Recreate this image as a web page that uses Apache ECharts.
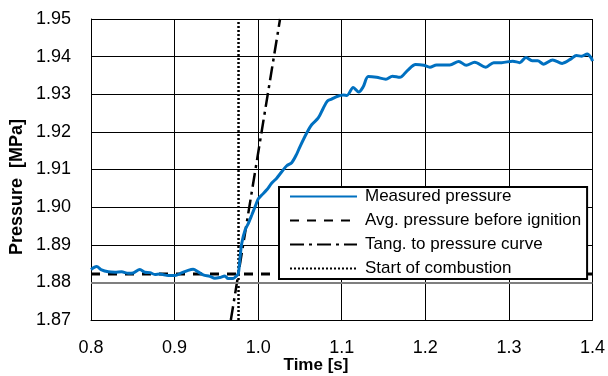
<!DOCTYPE html>
<html>
<head>
<meta charset="utf-8">
<script src="https://cdn.jsdelivr.net/npm/echarts@6/dist/echarts.min.js"></script>
<style>
  html, body { margin: 0; padding: 0; background: #fff; }
  #chart { width: 608px; height: 376px; }
</style>
</head>
<body>
<div id="chart"></div>
<script>
// measured pressure
const timeS = [
  0.800, 0.8067, 0.8127, 0.8207, 0.8287, 0.8366, 0.8446, 0.8505, 0.8585, 0.8645,
  0.8705, 0.8765, 0.8824, 0.8924, 0.9004, 0.9082, 0.9162, 0.9222, 0.9282, 0.9342,
  0.9422, 0.9481, 0.9541, 0.9601, 0.9640, 0.9700, 0.9740,
  0.9763, 0.9784, 0.9804, 0.9844, 0.9883, 0.9924, 0.9963, 1.0002, 1.0043, 1.0103,
  1.0163, 1.0222, 1.0282, 1.0342, 1.0401, 1.0461, 1.0501, 1.0581, 1.0640, 1.0719,
  1.0779, 1.0829, 1.0879, 1.0943, 1.1018, 1.1062, 1.1137, 1.1203, 1.1257, 1.1317,
  1.1417, 1.1528, 1.1606, 1.1695, 1.1785, 1.1884, 1.1982, 1.2054, 1.2134, 1.2293,
  1.2400, 1.2490, 1.2591, 1.2723, 1.2818, 1.2914, 1.3046, 1.3129, 1.3204, 1.3278,
  1.3344, 1.3416, 1.3523, 1.3637, 1.3744, 1.3806, 1.3870, 1.3938, 1.3986, 1.4000
];
const pressureMPa = [
  1.8834, 1.8842, 1.8833, 1.8828, 1.8827, 1.8828, 1.8824, 1.8825, 1.8834, 1.8827,
  1.8826, 1.8821, 1.8822, 1.8818, 1.8818, 1.8825, 1.8832, 1.8835, 1.8828, 1.8820,
  1.8816, 1.8811, 1.8813, 1.8817, 1.8810, 1.8810, 1.8817,
  1.8824, 1.8868, 1.8904, 1.8939, 1.8957, 1.8979, 1.9001, 1.9022, 1.9032, 1.9046,
  1.9064, 1.9077, 1.9094, 1.9110, 1.9118, 1.9141, 1.9161, 1.9197, 1.9219, 1.9237,
  1.9263, 1.9282, 1.9287, 1.9294, 1.9298, 1.9297, 1.9318, 1.9306, 1.9320, 1.9347,
  1.9345, 1.9340, 1.9348, 1.9345, 1.9363, 1.9379, 1.9377, 1.9372, 1.9378, 1.9378,
  1.9387, 1.9377, 1.9385, 1.9372, 1.9384, 1.9384, 1.9388, 1.9384, 1.9398, 1.9389,
  1.9389, 1.9380, 1.9391, 1.9382, 1.9394, 1.9403, 1.9401, 1.9407, 1.9396, 1.9388
];

// average pressure before ignition
const avgPressure = 1.8822;
const avgRange = [0.8, 1.4];

// tangent to the pressure curve: two points on it
const tangentT = [0.9673, 1.0262];
const tangentP = [1.87, 1.95];

// start of combustion
const startT = 0.9765;
const startRange = [1.87, 1.95];

// horizontal axis crossing line
const axisCross = 1.88;

// axis ticks
const xTicks = { min: 0.8, max: 1.4, step: 0.1 };
const yTicks = { min: 1.87, max: 1.95, step: 0.01 };

const seriesNames = [
  'Measured pressure',
  'Avg. pressure before ignition',
  'Tang. to pressure curve',
  'Start of combustion'
];

const font = '"Liberation Sans", Arial, sans-serif';
const chart = echarts.init(document.getElementById('chart'));

const option = {
  animation: false,
  backgroundColor: '#fff',
  grid: { left: 91, top: 19, width: 503, height: 301, containLabel: false },
  legend: {
    orient: 'vertical',
    left: 279,
    top: 187,
    data: seriesNames,
    itemWidth: 67,
    itemHeight: 14,
    itemGap: 7,
    padding: [1, 6, 2, 10],
    backgroundColor: '#fff',
    borderColor: '#000',
    borderWidth: 2,
    borderRadius: 0,
    itemStyle: { opacity: 0 },
    textStyle: { fontFamily: font, fontSize: 17, color: '#000', padding: [0, 0, 0, 3] }
  },
  xAxis: {
    type: 'value',
    min: xTicks.min,
    max: xTicks.max,
    interval: xTicks.step,
    axisLine: { show: true, lineStyle: { color: '#000', width: 1 } },
    axisTick: { show: false },
    splitLine: { show: true, lineStyle: { color: '#000', width: 1 } },
    axisLabel: {
      fontFamily: font, fontSize: 18, color: '#000', margin: 19,
      formatter: v => v.toFixed(1)
    }
  },
  yAxis: {
    type: 'value',
    min: yTicks.min,
    max: yTicks.max,
    interval: yTicks.step,
    axisLine: { show: true, lineStyle: { color: '#000', width: 1 } },
    axisTick: { show: false },
    splitLine: { show: true, lineStyle: { color: '#000', width: 1 } },
    axisLabel: {
      fontFamily: font, fontSize: 18, color: '#000', margin: 20,
      formatter: v => v.toFixed(2)
    }
  },
  graphic: [
    {
      type: 'text', x: 17, y: 187, rotation: Math.PI / 2,
      style: {
        text: 'Pressure  [MPa]', fontFamily: font, fontSize: 18, fontWeight: 'bold',
        fill: '#000', align: 'center', verticalAlign: 'middle'
      }
    },
    {
      type: 'text', x: 316, y: 365,
      style: {
        text: 'Time [s]', fontFamily: font, fontSize: 17, fontWeight: 'bold',
        fill: '#000', align: 'center', verticalAlign: 'middle'
      }
    }
  ],
  series: [
    {
      name: 'axis-cross',
      type: 'line',
      data: [],
      silent: true,
      markLine: {
        silent: true,
        symbol: 'none',
        label: { show: false },
        lineStyle: { color: '#7f7f7f', width: 2, type: 'solid' },
        data: [{ yAxis: axisCross }]
      }
    },
    {
      name: seriesNames[1],
      type: 'line',
      symbol: 'none',
      data: avgRange.map(t => [t, avgPressure]),
      lineStyle: { color: '#000', width: 3, type: [9, 8] },
      itemStyle: { color: '#000' },
      z: 3
    },
    {
      name: seriesNames[2],
      type: 'line',
      symbol: 'none',
      clip: true,
      data: tangentT.map((t, i) => [t, tangentP[i]]),
      lineStyle: { color: '#000', width: 2.5, type: [14, 5, 3, 5] },
      itemStyle: { color: '#000' },
      z: 3
    },
    {
      name: seriesNames[3],
      type: 'line',
      symbol: 'none',
      data: startRange.map(p => [startT, p]),
      lineStyle: { color: '#000', width: 2.5, type: [2, 2] },
      itemStyle: { color: '#000' },
      z: 3
    },
    {
      name: seriesNames[0],
      type: 'line',
      symbol: 'none',
      smooth: 0.3,
      data: timeS.map((t, i) => [t, pressureMPa[i]]),
      lineStyle: { color: '#0070C0', width: 3 },
      itemStyle: { color: '#0070C0' },
      z: 4
    }
  ]
};

chart.setOption(option);
</script>
</body>
</html>
